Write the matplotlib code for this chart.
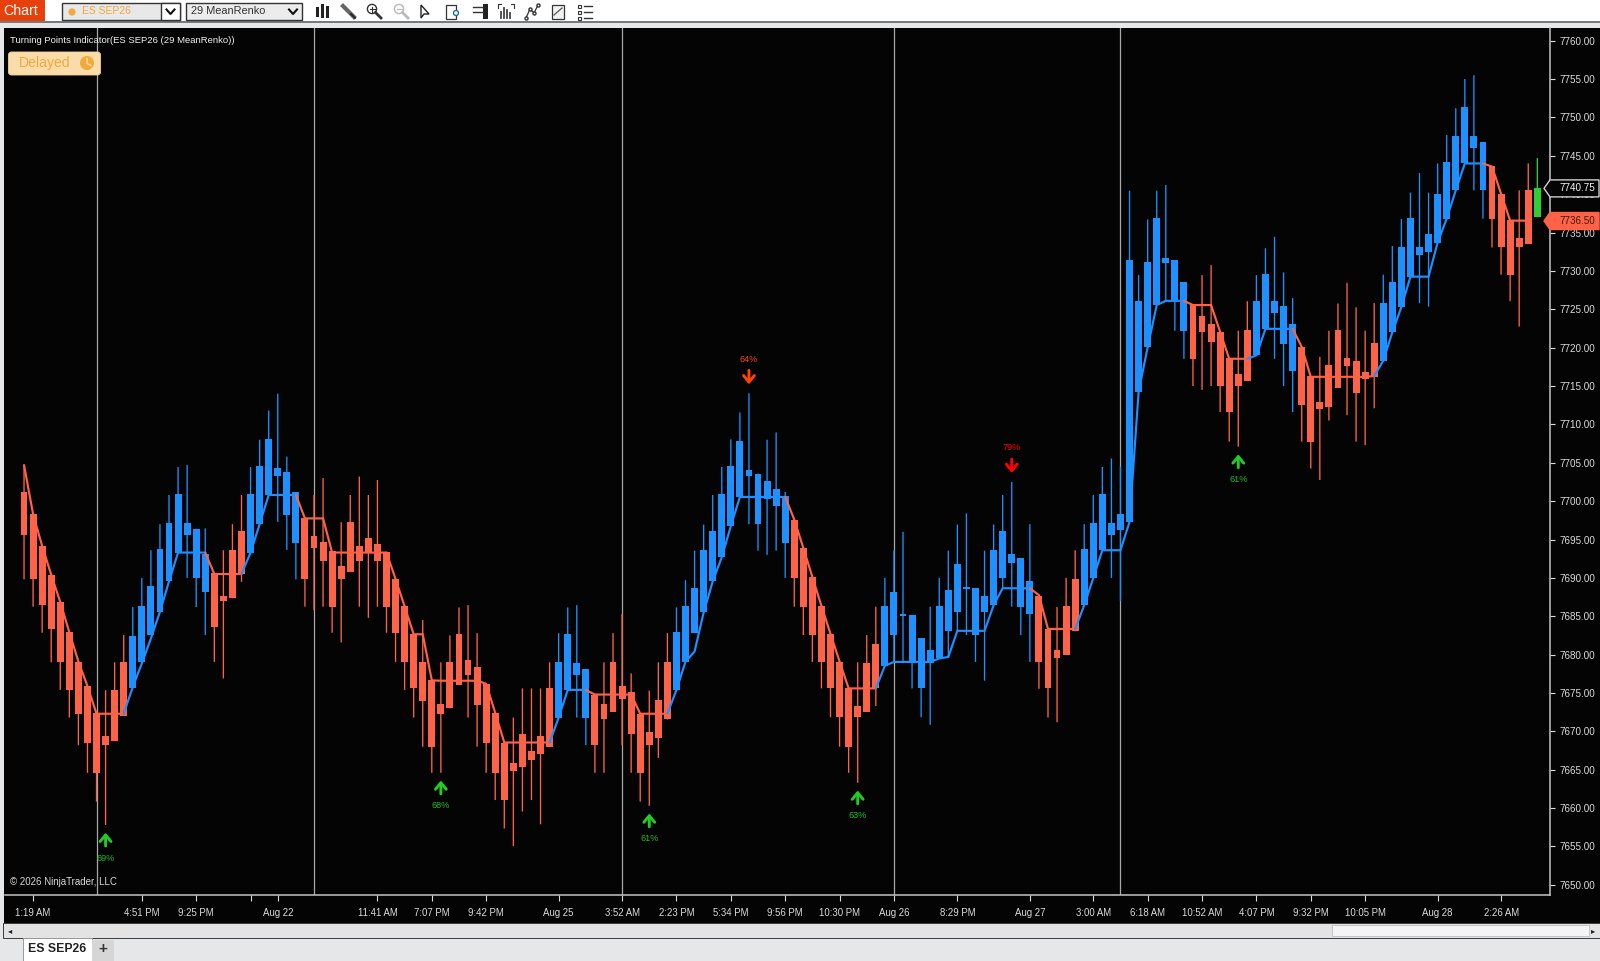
import numpy as np
import matplotlib
matplotlib.use("Agg")
import matplotlib.pyplot as plt
from matplotlib.patches import Rectangle, FancyBboxPatch, Polygon, Circle

plt.rcParams['font.family'] = ['Liberation Sans', 'DejaVu Sans']

# candle bodies / wicks, one entry per bar
body_hi = [
    7701.15,7698.3,7694.15,7690.4,7686.85,7682.9,7679.1,7675.9,7672.4,7669.45,
    7675.4,7679.1,7682.4,7686.35,7688.95,7693.7,7697.1,7700.9,7697.1,7696.4,
    7693.05,7690.6,7687.7,7693.65,7696.1,7700.9,7704.6,7708.1,7704.3,7703.85,
    7701.15,7697.85,7695.4,7694.65,7693.45,7691.6,7697.3,7694.15,7695.15,7694.4,
    7693.4,7689.85,7686.3,7682.65,7679.1,7676.65,7673.6,7679.1,7682.65,7679.35,
    7678.4,7676.2,7672.4,7668.55,7665.85,7669.65,7667.5,7669.4,7675.7,7679.1,
    7682.7,7678.85,7678.15,7674.8,7673.6,7679.1,7675.9,7675.15,7672.3,7669.9,
    7674.05,7679.1,7682.9,7686.3,7688.65,7693.65,7696.1,7700.9,7704.55,7707.9,
    7704.05,7703.6,7702.6,7701.6,7700.65,7697.6,7693.9,7690.1,7686.35,7682.7,
    7679.1,7675.6,7673.35,7678.85,7681.45,7686.35,7688.15,7685.3,7685.1,7682.15,
    7680.55,7686.35,7688.4,7691.85,7688.65,7688.7,7687.7,7693.65,7696.1,7693.05,
    7692.6,7689.65,7687.7,7683.4,7680.6,7686.35,7689.9,7693.7,7697.1,7700.9,
    7697.1,7698.3,7731.45,7726.1,7731.1,7736.9,7731.65,7731.4,7728.55,7725.55,
    7724.15,7723.05,7722.05,7718.6,7716.55,7722.3,7726.1,7729.6,7726.1,7725.4,
    7723.05,7720.1,7716.3,7712.9,7717.7,7722.3,7718.6,7718.2,7716.8,7720.6,
    7725.85,7728.55,7733.1,7736.9,7733.1,7734.8,7740.05,7744.15,7747.6,7751.35,
    7747.6,7746.8,7743.65,7740.05,7736.65,7734.35,7740.55,7740.8]
body_lo = [
    7695.55,7689.8,7686.45,7683.3,7679.0,7675.4,7672.3,7668.5,7664.6,7668.2,
    7668.75,7672.05,7675.6,7679.05,7682.55,7685.5,7689.55,7693.3,7695.6,7690.0,
    7688.1,7683.55,7687.0,7687.35,7690.5,7693.3,7697.0,7700.8,7703.25,7698.2,
    7694.6,7689.8,7693.85,7692.25,7686.25,7689.8,7690.8,7692.25,7693.3,7692.25,
    7686.25,7682.85,7679.05,7675.6,7674.0,7668.0,7672.25,7673.0,7676.1,7677.3,
    7673.5,7668.5,7664.6,7661.05,7664.9,7665.3,7666.3,7667.05,7668.0,7671.8,
    7675.4,7677.35,7671.8,7668.2,7671.55,7672.55,7674.25,7669.6,7664.6,7668.2,
    7669.15,7671.55,7675.4,7679.1,7682.85,7685.5,7689.55,7692.7,7696.75,7700.55,
    7703.3,7697.0,7700.3,7699.35,7694.6,7690.0,7686.25,7682.55,7679.05,7675.6,
    7671.85,7668.0,7671.85,7672.55,7675.6,7678.55,7682.55,7685.05,7679.05,7675.6,
    7678.85,7679.5,7683.1,7685.5,7688.6,7682.55,7685.5,7686.45,7690.0,7691.95,
    7686.25,7685.3,7679.05,7675.6,7679.5,7679.95,7683.05,7686.45,7690.0,7693.6,
    7695.55,7696.3,7697.3,7714.25,7720.05,7725.55,7731.0,7726.1,7722.2,7718.55,
    7722.0,7720.75,7715.0,7711.6,7715.0,7715.7,7719.0,7722.45,7724.55,7720.5,
    7716.95,7712.5,7707.75,7712.05,7712.3,7714.8,7717.6,7714.05,7715.95,7716.2,
    7718.3,7722.0,7725.3,7729.25,7732.05,7732.5,7733.7,7736.8,7740.5,7744.0,
    7746.0,7740.5,7736.8,7733.05,7729.5,7733.05,7733.5,7737.05]
high = [
    7704.7,7698.3,7694.15,7690.4,7686.85,7682.9,7679.1,7675.9,7672.4,7675.35,
    7679.0,7682.55,7686.2,7690.0,7693.6,7697.0,7700.8,7704.45,7704.7,7696.4,
    7696.45,7690.6,7693.6,7697.0,7700.8,7704.45,7708.0,7711.8,7714.0,7705.8,
    7701.15,7697.85,7700.8,7703.0,7693.45,7697.25,7700.8,7703.2,7700.8,7702.75,
    7693.4,7689.85,7686.3,7682.65,7684.5,7676.65,7679.0,7682.5,7686.15,7686.45,
    7682.8,7676.2,7672.4,7668.55,7671.8,7675.6,7675.6,7675.6,7679.0,7682.8,
    7686.15,7686.45,7678.15,7674.8,7679.0,7682.8,7685.25,7677.55,7672.3,7675.3,
    7679.0,7682.8,7686.15,7689.7,7693.55,7696.95,7700.8,7704.45,7708.05,7711.55,
    7714.05,7703.6,7708.0,7708.95,7701.2,7697.6,7693.9,7690.1,7686.35,7682.7,
    7679.1,7675.6,7679.0,7682.55,7686.25,7690.0,7693.55,7696.0,7685.1,7682.15,
    7686.25,7690.0,7693.55,7696.95,7698.4,7688.7,7693.55,7696.95,7700.8,7702.5,
    7692.6,7697.0,7687.7,7683.4,7686.2,7690.0,7693.6,7697.0,7700.8,7704.45,
    7705.55,7704.5,7740.45,7729.45,7736.7,7740.45,7741.2,7731.4,7728.55,7725.55,
    7729.45,7730.75,7722.05,7718.6,7722.2,7726.05,7729.45,7732.95,7734.45,7729.8,
    7726.45,7720.1,7716.3,7718.8,7722.2,7725.75,7728.45,7725.25,7722.2,7725.8,
    7729.5,7733.25,7736.75,7740.2,7742.75,7740.2,7744.0,7747.7,7751.2,7755.0,
    7755.5,7746.8,7743.65,7740.05,7736.65,7740.5,7744.0,7744.7]
low = [
    7689.8,7686.25,7682.85,7679.0,7675.4,7671.8,7668.2,7664.6,7660.85,7657.8,
    7668.75,7672.05,7675.6,7679.05,7682.55,7685.5,7689.55,7693.3,7690.0,7686.2,
    7682.55,7679.05,7676.9,7687.35,7689.5,7693.3,7697.0,7700.8,7697.3,7693.65,
    7689.8,7686.25,7685.8,7686.25,7682.85,7681.6,7690.8,7686.25,7684.8,7686.25,
    7682.85,7679.05,7675.4,7671.8,7668.0,7664.6,7664.6,7673.0,7676.1,7671.8,
    7668.0,7664.6,7661.05,7657.35,7655.05,7659.55,7661.05,7657.9,7668.0,7671.8,
    7675.4,7671.8,7668.2,7664.6,7664.6,7672.55,7668.2,7664.6,7660.85,7660.3,
    7666.55,7671.55,7675.4,7679.1,7682.85,7685.5,7689.55,7692.7,7696.75,7700.55,
    7697.0,7693.55,7693.0,7693.55,7690.0,7686.25,7682.55,7679.05,7675.6,7671.85,
    7668.0,7664.6,7663.3,7672.55,7673.3,7678.55,7679.05,7679.05,7675.6,7671.85,
    7670.85,7679.5,7679.7,7683.1,7682.55,7679.05,7676.6,7686.45,7688.65,7686.25,
    7682.55,7679.05,7675.55,7671.8,7671.2,7679.95,7683.05,7686.45,7690.0,7693.6,
    7690.0,7687.0,7697.3,7714.25,7720.05,7725.55,7726.1,7722.2,7718.55,7715.0,
    7714.5,7715.0,7711.6,7707.75,7707.1,7715.7,7719.0,7722.45,7718.55,7715.0,
    7711.6,7707.75,7704.25,7702.75,7710.5,7714.8,7711.2,7707.75,7707.3,7712.1,
    7718.3,7722.0,7725.3,7729.25,7725.8,7725.35,7733.7,7736.8,7740.5,7744.0,
    7740.5,7736.8,7733.05,7729.5,7726.05,7722.75,7733.5,7737.05]

# trend line, stops one bar before the last candle
trend_line = [
    7704.7,7698.3,7694.15,7690.4,7686.85,7682.9,7679.1,7675.9,7672.3,7672.3,
    7672.3,7672.3,7675.8,7678.85,7682.1,7685.6,7689.55,7693.3,7693.3,7693.3,
    7693.3,7690.5,7690.5,7690.5,7690.5,7693.3,7697.0,7700.8,7700.8,7700.8,
    7700.8,7697.75,7697.75,7697.75,7693.3,7693.3,7693.3,7693.3,7693.3,7693.3,
    7693.3,7689.85,7686.3,7682.65,7682.65,7676.65,7676.6,7676.6,7676.6,7676.6,
    7676.6,7676.2,7672.4,7668.55,7668.55,7668.55,7668.55,7668.55,7668.55,7671.8,
    7675.4,7675.4,7675.4,7674.8,7674.8,7674.8,7674.8,7674.8,7672.3,7672.3,
    7672.3,7672.3,7675.4,7679.1,7680.4,7685.5,7689.55,7692.7,7696.75,7700.55,
    7700.55,7700.55,7700.55,7700.55,7700.55,7697.6,7693.9,7690.1,7686.35,7682.7,
    7679.1,7675.6,7675.6,7675.6,7675.6,7678.55,7679.05,7679.05,7679.05,7679.05,
    7679.05,7679.5,7679.7,7683.1,7683.1,7683.1,7683.1,7686.45,7688.65,7688.65,
    7688.65,7688.65,7687.75,7683.35,7683.35,7683.35,7683.35,7686.45,7690.0,7693.6,
    7693.6,7693.6,7697.3,7714.25,7720.05,7725.55,7726.1,7726.1,7726.1,7725.55,
    7725.55,7725.55,7722.05,7718.55,7718.55,7718.55,7719.0,7722.45,7722.45,7722.45,
    7722.45,7720.1,7716.2,7716.2,7716.2,7716.2,7716.2,7716.2,7716.2,7716.3,
    7718.3,7722.0,7725.3,7729.25,7729.25,7729.25,7733.7,7736.8,7740.5,7744.0,
    7744.0,7744.0,7743.6,7740.05,7736.55,7736.55,7736.55]

# line turns: bar index where each run starts, first run is the falling one
trend_turns = [0, 11, 20, 24, 30, 58, 62, 71, 84, 94, 111, 116, 128, 135, 140, 149, 161, 166]

session_bars = [8, 32, 66, 96, 121]

tick_bars = [1, 13, 19, 25, 28, 39, 45, 51, 59, 66, 72, 78, 84, 90, 96, 103, 111,
             118, 124, 130, 136, 142, 148, 156, 163]
tick_labels = ["1:19 AM", "4:51 PM", "9:25 PM", "", "Aug 22", "11:41 AM", "7:07 PM",
               "9:42 PM", "Aug 25", "3:52 AM", "2:23 PM", "5:34 PM", "9:56 PM",
               "10:30 PM", "Aug 26", "8:29 PM", "Aug 27", "3:00 AM", "6:18 AM",
               "10:52 AM", "4:07 PM", "9:32 PM", "10:05 PM", "Aug 28", "2:26 AM"]
price_ticks = list(range(7650, 7761, 5))

up_signal_bars = [9, 46, 69, 92, 134]
up_signal_pct = ["69%", "68%", "61%", "63%", "61%"]
down_signal_bars = [80, 109]
down_signal_pct = ["64%", "79%"]
down_signal_cols = ["#ff4500", "#ff0000"]

ask_price = 7740.75
last_price = 7736.50

BLUE = "#1e90ff"
RED = "#ff6347"
GREEN = "#32cd32"
W, H = 1600, 961
PX = 0.72  # points per pixel at dpi 100

fig = plt.figure(figsize=(W / 100, H / 100), dpi=100, facecolor="#e6e7e8")


def pixel_axes(z):
    a = fig.add_axes([0, 0, 1, 1], zorder=z)
    a.set_xlim(0, W)
    a.set_ylim(H, 0)
    a.axis("off")
    a.patch.set_alpha(0)
    return a


back = pixel_axes(0)
ui = pixel_axes(3)

# window chrome behind the chart
back.add_patch(Rectangle((0, 0), W, 22, fc="white", ec="none"))
back.add_patch(Rectangle((0, 21), W, 2, fc="#7a7a7a", ec="none"))
back.add_patch(Rectangle((4, 28), W - 4, 895, fc="#040404", ec="none"))
back.add_patch(Rectangle((3, 923), W - 3, 15, fc="#e3e3e3", ec="#3a3a3a", lw=0.7))
back.add_patch(Rectangle((1332, 925), 257, 11, fc="#f4f4f4", ec="#c4c4c4", lw=0.7))
back.text(10, 930.5, "\u25c2", fontsize=6, color="#222222", ha="center", va="center", family="DejaVu Sans")
back.text(1593, 930.5, "\u25b8", fontsize=6, color="#222222", ha="center", va="center", family="DejaVu Sans")
back.add_patch(Rectangle((23, 938), 69, 23, fc="white", ec="#9a9a9a", lw=0.7))
back.add_patch(Rectangle((92, 940), 22, 21, fc="#d6d6d6", ec="none"))
back.text(57, 949, "ES SEP26", fontsize=8.8, color="#222222", ha="center", va="center", weight="bold")
back.text(103, 949.5, "+", fontsize=11, color="#333333", ha="center", va="center", weight="bold")

back.add_patch(Rectangle((0, 0), 45, 21, fc="#e8400c", ec="none"))
back.text(3.5, 11, "Chart", fontsize=10.2, color="white", va="center")
back.add_patch(Rectangle((62, 3), 118, 17, fc="#e8e8e8", ec="#333333", lw=1))
back.add_patch(Rectangle((161, 3), 19, 17, fc="white", ec="#333333", lw=1))
back.add_patch(Circle((72, 12), 3.6, fc="#f2a93b", ec="none"))
back.text(82, 11.5, "ES SEP26", fontsize=7.5, color="#f0a93b", va="center")
back.add_patch(Rectangle((186, 3), 116, 17, fc="#ececec", ec="#333333", lw=1))
back.text(191, 11.5, "29 MeanRenko", fontsize=7.9, color="#333333", va="center")
for cx in (170.5, 293):
    back.plot([cx - 4, cx, cx + 4], [9.5, 14, 9.5], color="#111111", lw=1.5)

# toolbar icons, only rough shapes
ic = "#333333"
for cx, h1, h2 in [(317, 8, 15), (322, 5, 16), (327, 7, 16)]:
    back.plot([cx, cx], [h1, h2], color="#222222", lw=2.2)
back.plot([343, 354], [6, 17], color="#666666", lw=3)
back.plot([351, 355], [14, 18], color="#222222", lw=1.2)
for cx, col in [(372, ic), (399, "#b9b9b9")]:
    back.add_patch(Circle((cx, 9), 4.6, fc="none", ec=col, lw=1))
    back.plot([cx + 3.5, cx + 9], [12.5, 18], color=col, lw=2)
    back.plot([cx - 2.5, cx + 2.5], [9, 9], color=col, lw=0.8)
back.plot([372, 372], [6.5, 11.5], color=ic, lw=0.8)
back.add_patch(Polygon([(421, 5), (421, 18), (424, 14), (429, 14)], closed=True, fc="white", ec="#222222", lw=1))
back.add_patch(Rectangle((446, 5), 10, 14, fc="white", ec=ic, lw=0.9))
back.add_patch(Circle((456, 13), 2.5, fc="white", ec="#1b6f8f", lw=1))
back.add_patch(Rectangle((483, 4), 5, 15, fc="#222222", ec="none"))
back.plot([473, 483], [7, 7], color=ic, lw=1)
back.plot([473, 483], [12, 12], color=ic, lw=1)
for cx, top in [(501, 12), (504, 8), (507, 10), (510, 13)]:
    back.plot([cx, cx], [top, 18], color="#444444", lw=1.3)
back.plot([498, 498, 501], [8, 4, 4], color=ic, lw=0.8)
back.plot([511, 514, 514], [4, 4, 8], color=ic, lw=0.8)
back.plot([526, 530, 534, 538], [18, 9, 13, 5], color=ic, lw=0.9, marker="o", ms=2.2, mfc="white")
back.add_patch(Rectangle((552, 5), 12, 14, fc="#f2f2f2", ec=ic, lw=0.9))
back.plot([554, 562], [15, 8], color="#555555", lw=0.9)
for cy in (6, 12, 18):
    back.add_patch(Rectangle((578, cy - 1.5), 3, 3, fc="white", ec=ic, lw=0.8))
    back.plot([584, 592], [cy, cy], color=ic, lw=1)

# price chart, positions are bar numbers
ax = fig.add_axes([5 / W, (H - 895) / H, 1545 / W, 867 / H], zorder=1)
ax.set_facecolor("#040404")
ax.set_xlim(-2.1, 168.4)
ax.set_ylim(7648.68, 7761.65)

n = len(high)
bars = np.arange(n)
falling = np.ones(n, dtype=bool)
line_cols = []
for k in range(len(trend_turns) - 1):
    a, b = trend_turns[k], trend_turns[k + 1]
    col = RED if k % 2 == 0 else BLUE
    line_cols.append((a, b, col))
    falling[a + 1:b + 1] = k % 2 == 0
bar_cols = [RED if f else BLUE for f in falling]
bar_cols[-1] = GREEN

for b in session_bars:
    ax.axvline(b, color="#a8a8a8", lw=0.9, zorder=1)

wick = ax.vlines(bars, low, high, colors=bar_cols, lw=0.95, zorder=2)
wick.set_snap(False)
# tiny bodies would vanish, keep at least a sliver
heights = np.maximum(np.array(body_hi) - np.array(body_lo), 0.2)
ax.bar(bars, heights, bottom=body_lo, width=0.76, color=bar_cols, lw=0, zorder=3)

for a, b, col in line_cols:
    ax.plot(bars[a:b + 1], trend_line[a:b + 1], color=col, lw=1.55, zorder=4,
            solid_capstyle="round", solid_joinstyle="miter")

arrow_style = "->,head_length=0.36,head_width=0.3"
for b, pct in zip(up_signal_bars, up_signal_pct):
    ax.annotate("", xy=(b, low[b]), xytext=(0, -21 * PX), textcoords="offset points",
                arrowprops=dict(arrowstyle=arrow_style, color="#22cc22", lw=2.1, mutation_scale=13,
                                shrinkA=0, shrinkB=7.7 * PX), zorder=5)
    ax.annotate(pct, xy=(b, low[b]), xytext=(0, -33 * PX), textcoords="offset points",
                color="#22bb22", fontsize=6.6, ha="center", va="center", zorder=5)

for b, pct, col in zip(down_signal_bars, down_signal_pct, down_signal_cols):
    ax.annotate("", xy=(b, high[b]), xytext=(0, 23 * PX), textcoords="offset points",
                arrowprops=dict(arrowstyle=arrow_style, color=col, lw=2.1, mutation_scale=13,
                                shrinkA=0, shrinkB=9 * PX), zorder=5)
    ax.annotate(pct, xy=(b, high[b]), xytext=(0, 34 * PX), textcoords="offset points",
                color=col, fontsize=6.6, ha="center", va="center", zorder=5)

ax.yaxis.tick_right()
ax.set_yticks(price_ticks)
ax.set_yticklabels([f"{p:.2f}" for p in price_ticks])
ax.set_xticks(tick_bars)
ax.set_xticklabels(tick_labels)
ax.tick_params(axis="y", colors="#dcdcdc", labelsize=7.1, length=3.5, width=0.8, pad=3)
ax.tick_params(axis="x", colors="#dcdcdc", labelsize=6.9, length=4, width=0.8, pad=5.5)
for s in ("top", "left"):
    ax.spines[s].set_visible(False)
for s in ("right", "bottom"):
    ax.spines[s].set_color("#c4c4c4")
    ax.spines[s].set_linewidth(1.1)

# text and flags that sit on top of the chart
ui.text(9.5, 40.5, "Turning Points Indicator(ES SEP26 (29 MeanRenko))", fontsize=6.8,
        color="#f0f0f0", va="center")
ui.text(10, 881.7, "\u00a9 2026 NinjaTrader, LLC", fontsize=7.0, color="#d8d8d8", va="center")
ui.add_patch(FancyBboxPatch((10, 53.5), 89, 20, boxstyle="round,pad=1.5,rounding_size=3",
                            fc="#f9dcaa", ec="#f7d29a", lw=0.6))
ui.text(19, 63.5, "Delayed", fontsize=10.1, color="#f0a93b", va="center")
ui.add_patch(Circle((87, 63), 7, fc="#f2a93b", ec="none"))
ui.plot([87, 87, 91], [58.5, 63.5, 65.5], color="#f9dcaa", lw=1)


def price_flag(price, txt, fc, ec, tc):
    y = H - ax.transData.transform((0, price))[1]
    pts = [(1544, y), (1550, y - 8.5), (1599, y - 8.5), (1599, y + 8.5), (1550, y + 8.5)]
    ui.add_patch(Polygon(pts, closed=True, fc=fc, ec=ec, lw=1))
    ui.text(1559, y, txt, fontsize=7.1, color=tc, va="center")


price_flag(ask_price, f"{ask_price:.2f}", "#040404", "#d0d0d0", "#f4f4f4")
price_flag(last_price, f"{last_price:.2f}", RED, RED, "#3a1a10")

fig.savefig("out.png", dpi=100, facecolor=fig.get_facecolor())
